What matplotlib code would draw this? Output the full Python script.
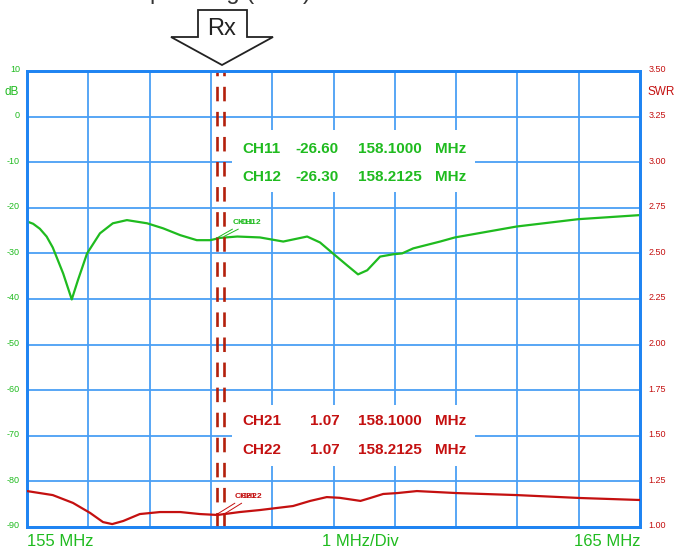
import matplotlib
matplotlib.use("Agg")
import matplotlib.pyplot as plt
import numpy as np
from matplotlib.patches import Polygon, Rectangle
from matplotlib.transforms import ScaledTranslation

plt.rcParams['font.family'] = ['Liberation Sans', 'DejaVu Sans']

# return loss trace (dB)
rl_freq = [155.00, 155.10, 155.21, 155.32, 155.42, 155.59, 155.73, 155.83, 155.98, 156.19,
           156.40, 156.63, 156.96, 157.22, 157.50, 157.77, 157.99, 158.15, 158.43, 158.80,
           159.18, 159.57, 159.78, 159.99, 160.22, 160.40, 160.55, 160.76, 160.97,
           161.12, 161.30, 161.74, 161.98, 162.99, 163.99, 165.00]
rl_db = [-23.0, -23.5, -24.6, -26.3, -28.7, -34.4, -40.1, -35.9, -30.0, -25.6,
         -23.4, -22.7, -23.4, -24.5, -26.0, -27.1, -27.1, -26.6, -26.3, -26.5,
         -27.4, -26.3, -27.6, -30.0, -32.6, -34.6, -33.7, -30.7, -30.2,
         -30.0, -28.9, -27.4, -26.5, -24.1, -22.5, -21.6]

# SWR trace
swr_freq = [155.00, 155.42, 155.75, 156.03, 156.24, 156.39, 156.57, 156.84, 157.17,
            157.50, 157.82, 158.11, 158.47, 158.80, 159.34, 159.62, 159.89, 160.10,
            160.22, 160.44, 160.60, 160.81, 161.04, 161.36, 162.01, 162.99, 164.02,
            165.00]
swr_val = [1.197, 1.175, 1.132, 1.077, 1.027, 1.016, 1.033, 1.071, 1.082,
           1.082, 1.071, 1.066, 1.082, 1.093, 1.115, 1.143, 1.164, 1.160,
           1.154, 1.143, 1.159, 1.181, 1.186, 1.197, 1.186, 1.175, 1.159,
           1.148]

marker_freq = [158.1000, 158.2125]
rl_marker = [-26.60, -26.30]
swr_marker = [1.07, 1.07]
rl_names = ['CH11', 'CH12']
swr_names = ['CH21', 'CH22']

db_ticks = list(range(-90, 11, 10))
swr_ticks = [1.00, 1.25, 1.50, 1.75, 2.00, 2.25, 2.50, 2.75, 3.00, 3.25, 3.50]

GREEN = '#1fbb1f'
RED = '#c41010'
BLUE = '#1f84f2'
MARK = '#b3200c'

fig = plt.figure(figsize=(6.74, 5.52), dpi=100)
ax = fig.add_axes([27 / 674, 25 / 552, 613 / 674, 456 / 552])
ax2 = ax.twinx()

ax.set_xlim(155, 165)
ax.set_ylim(-90, 10)
ax2.set_ylim(1.0, 3.5)

ax.set_xticks(np.arange(155, 165.5, 1))
ax.set_xticklabels([])
ax.set_yticks(db_ticks)
ax.set_yticklabels([str(t) for t in db_ticks], color=GREEN, fontsize=6.5)
ax.tick_params(axis='both', length=0)
ax.tick_params(axis='y', pad=5)
ax2.set_yticks(swr_ticks)
ax2.set_yticklabels(['%.2f' % t for t in swr_ticks], color=RED, fontsize=6.5)
ax2.tick_params(axis='y', length=0, pad=6)

shift = ScaledTranslation(0, 2 / 100, fig.dpi_scale_trans)
for lbl in ax.get_yticklabels() + ax2.get_yticklabels():
    lbl.set_transform(lbl.get_transform() + shift)

ax.grid(True, color='#4a9ff5', linewidth=1.3)
ax.set_axisbelow(True)
for a in (ax, ax2):
    for s in a.spines.values():
        s.set_color(BLUE)
        s.set_linewidth(2)

# readout boxes
for y0, y1 in [(-16.5, -2.9), (-76.6, -63.2)]:
    ax.add_patch(Rectangle((158.34, y0), 162.31 - 158.34, y1 - y0,
                           facecolor='white', edgecolor='none', zorder=1.5))

ax.plot(rl_freq, rl_db, color=GREEN, linewidth=1.6, zorder=3)
ax2.plot(swr_freq, swr_val, color=RED, linewidth=1.6, zorder=3)

for f in marker_freq:
    ax.axvline(f, color=MARK, linewidth=1.9, dashes=(5.5, 4), zorder=4)

# marker tags
for i, f in enumerate(marker_freq):
    ax.annotate(rl_names[i], xy=(f, rl_marker[i]), xytext=(158.36 + 0.11 * i, -23.3),
                fontsize=6, color=GREEN, fontweight='bold', va='center',
                arrowprops=dict(arrowstyle='-', color=GREEN, linewidth=0.7,
                                shrinkA=0, shrinkB=0), zorder=5)
    ax2.annotate(swr_names[i], xy=(f, swr_marker[i]), xytext=(158.38 + 0.11 * i, 1.165),
                 fontsize=6, color=RED, fontweight='bold', va='center',
                 arrowprops=dict(arrowstyle='-', color=RED, linewidth=0.7,
                                 shrinkA=0, shrinkB=0), zorder=5)

cols = [158.51, 160.40, 161.66]
for i in range(2):
    y = [-7.1, -13.25][i]
    ax.text(cols[0], y, rl_names[i], color=GREEN, fontsize=11, fontweight='bold', va='center')
    ax.text(159.37, y, '%.2f' % rl_marker[i], color=GREEN, fontsize=11, fontweight='bold', va='center')
    ax.text(cols[1], y, '%.4f' % marker_freq[i], color=GREEN, fontsize=11, fontweight='bold', va='center')
    ax.text(cols[2], y, 'MHz', color=GREEN, fontsize=11, fontweight='bold', va='center')
    y = [-66.75, -73.1][i]
    ax.text(cols[0], y, swr_names[i], color=RED, fontsize=11, fontweight='bold', va='center')
    ax.text(159.62, y, '%.2f' % swr_marker[i], color=RED, fontsize=11, fontweight='bold', va='center')
    ax.text(cols[1], y, '%.4f' % marker_freq[i], color=RED, fontsize=11, fontweight='bold', va='center')
    ax.text(cols[2], y, 'MHz', color=RED, fontsize=11, fontweight='bold', va='center')

# pixel-space overlay for the header and footer decorations
ov = fig.add_axes([0, 0, 1, 1])
ov.set_xlim(0, 674)
ov.set_ylim(552, 0)
ov.axis('off')
ov.patch.set_alpha(0)

ov.add_patch(Polygon([(198, 10), (247, 10), (247, 37), (273, 37), (222, 65),
                      (171, 37), (198, 37)], closed=True, facecolor='white',
                     edgecolor='#222222', linewidth=1.3))
ov.text(222, 29, 'Rx', fontsize=17, ha='center', va='center', color='#222222')
ov.text(91, -1, 'Sweep setting (Rx 1)', fontsize=17, ha='left', va='baseline', color='#333333')

ov.text(12, 92, 'dB', fontsize=8.5, color=GREEN, ha='center', va='center')
ov.text(647, 92, 'SWR', fontsize=8.5, color=RED, ha='left', va='center')

ov.text(27, 541, '155 MHz', fontsize=12, color=GREEN, ha='left', va='center')
ov.text(360, 541, '1 MHz/Div', fontsize=12, color=GREEN, ha='center', va='center')
ov.text(640, 541, '165 MHz', fontsize=12, color=GREEN, ha='right', va='center')

fig.savefig('out.png', dpi=100)
